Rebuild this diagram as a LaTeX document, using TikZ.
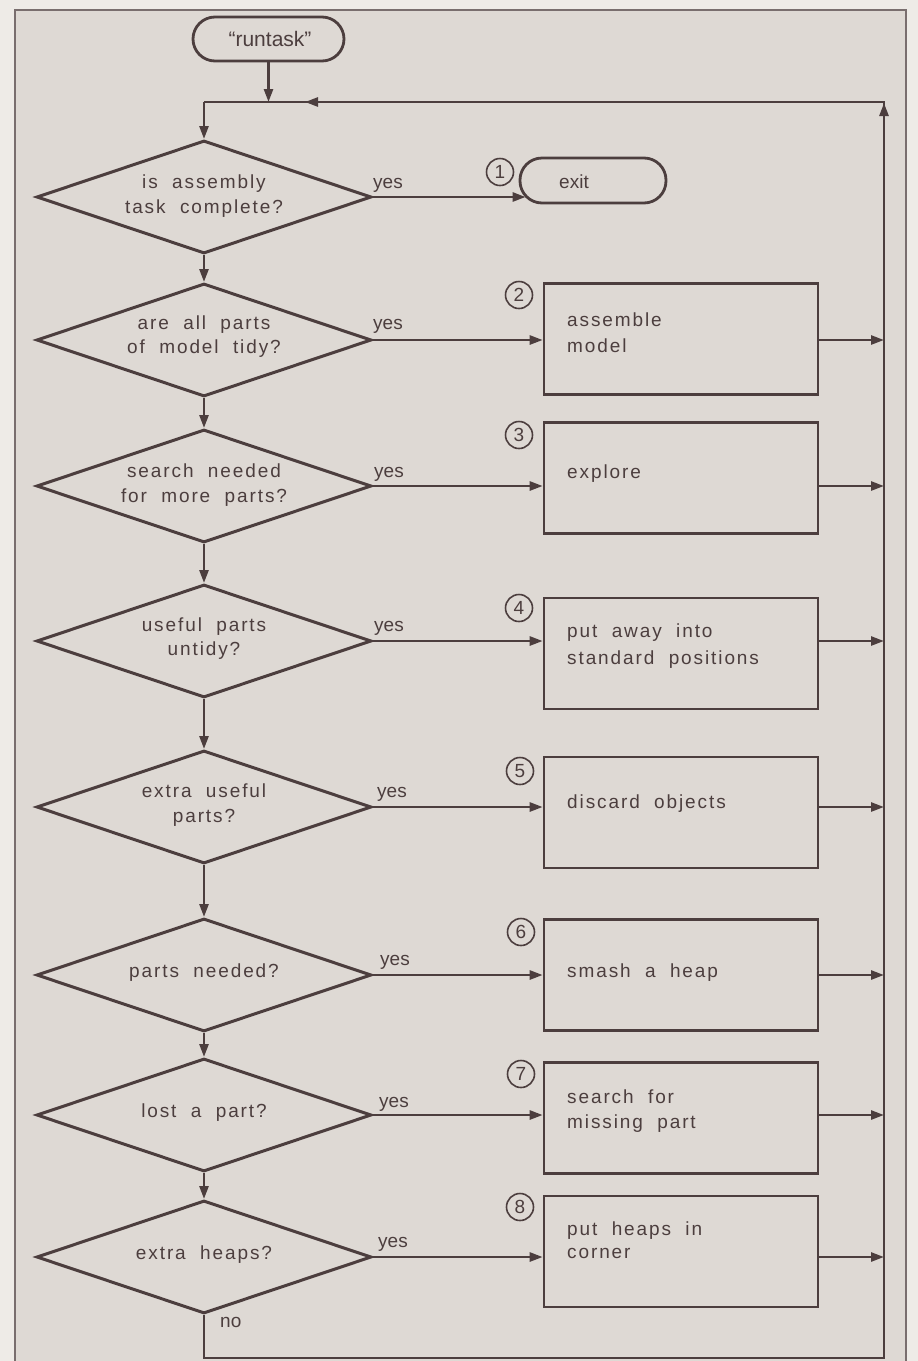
\documentclass[tikz,border=0pt]{standalone}
\usepackage{fontspec}
\setmainfont{Liberation Sans}
\newfontfamily\lab{Liberation Sans}[LetterSpace=10,WordSpace=2]
\usetikzlibrary{shapes.geometric,arrows.meta,decorations.markings}
\definecolor{ink}{RGB}{76,62,62}
\definecolor{paper}{RGB}{222,217,212}
\definecolor{margin}{RGB}{238,235,231}
\begin{document}
\begin{tikzpicture}[x=1pt,y=-1pt,
  line/.style={draw=ink,line width=2.6pt},
  arr/.style={line,-{Triangle[length=13pt,width=9pt]}},
  dec/.style={diamond,draw=ink,line width=3pt,minimum width=335pt,minimum height=113pt,inner sep=0pt,aspect=2.96},
  stepbox/.style={rectangle,draw=ink,line width=2.6pt,minimum width=274pt,minimum height=111pt,inner sep=0pt},
  term/.style={rectangle,rounded corners=22pt,draw=ink,line width=2.8pt,inner sep=0pt,minimum height=44pt},
  num/.style={circle,draw=ink,line width=1.6pt,minimum size=27pt,inner sep=0pt,text=ink,font=\fontsize{19}{19}\selectfont},
  txt/.style={anchor=base,inner sep=0pt,text=ink,font=\fontsize{19}{23}\selectfont\lab},
  btxt/.style={txt,anchor=base west},
  lbl/.style={anchor=base west,inner sep=0pt,text=ink,font=\fontsize{19}{23}\selectfont}]
\useasboundingbox (0,0) rectangle (918,1361);
\fill[margin] (0,0) rectangle (918,1361);
\filldraw[fill=paper,draw=ink!75,line width=1.4pt] (15,10) rectangle (906,1380);

% start
\node[term,minimum width=151pt] (runtask) at (268.5,39) {};
\node[lbl,anchor=base,font=\fontsize{21}{25}\selectfont] (runtaskt) at (270,46) {``runtask''};

% decisions
\node[dec] (d1) at (204,197) {};
\node[dec] (d2) at (204,340) {};
\node[dec] (d3) at (204,486) {};
\node[dec] (d4) at (204,641) {};
\node[dec] (d5) at (204,807) {};
\node[dec] (d6) at (204,975) {};
\node[dec] (d7) at (204,1115) {};
\node[dec] (d8) at (204,1257) {};

\node[txt] (d1a) at (204,188) {is assembly};
\node[txt] (d1b) at (204,213) {task complete?};
\node[txt] (d2a) at (204,329) {are all parts};
\node[txt] (d2b) at (204,353) {of model tidy?};
\node[txt] (d3a) at (204,477) {search needed};
\node[txt] (d3b) at (204,502) {for more parts?};
\node[txt] (d4a) at (204,631) {useful parts};
\node[txt] (d4b) at (204,655) {untidy?};
\node[txt] (d5a) at (204,797) {extra useful};
\node[txt] (d5b) at (204,822) {parts?};
\node[txt] (d6a) at (204,977) {parts needed?};
\node[txt] (d7a) at (204,1117) {lost a part?};
\node[txt] (d8a) at (204,1259) {extra heaps?};

% exit
\node[term,minimum width=146pt,minimum height=45pt] (exit) at (593,180.5) {};
\node[lbl,anchor=base] (exitt) at (574,188) {exit};

% action boxes
\node[stepbox] (b2) at (681,339) {};
\node[stepbox] (b3) at (681,478) {};
\node[stepbox] (b4) at (681,653.5) {};
\node[stepbox] (b5) at (681,812.5) {};
\node[stepbox] (b6) at (681,975) {};
\node[stepbox] (b7) at (681,1118) {};
\node[stepbox] (b8) at (681,1251.5) {};

\node[btxt] (b2a) at (567,326) {assemble};
\node[btxt] (b2b) at (567,352) {model};
\node[btxt] (b3a) at (567,478) {explore};
\node[btxt] (b4a) at (567,637) {put away into};
\node[btxt] (b4b) at (567,664) {standard positions};
\node[btxt] (b5a) at (567,808) {discard objects};
\node[btxt] (b6a) at (567,977) {smash a heap};
\node[btxt] (b7a) at (567,1103) {search for};
\node[btxt] (b7b) at (567,1128) {missing part};
\node[btxt] (b8a) at (567,1235) {put heaps in};
\node[btxt] (b8b) at (567,1258) {corner};

% numbers
\node[num] (c1) at (500,172) {1};
\node[num] (c2) at (519,295) {2};
\node[num] (c3) at (519,435) {3};
\node[num] (c4) at (519,608) {4};
\node[num] (c5) at (520,771) {5};
\node[num] (c6) at (521,932) {6};
\node[num] (c7) at (521,1074) {7};
\node[num] (c8) at (520,1207) {8};

% yes labels
\node[lbl] (y1) at (373,188) {yes};
\node[lbl] (y2) at (373,329) {yes};
\node[lbl] (y3) at (374,477) {yes};
\node[lbl] (y4) at (374,631) {yes};
\node[lbl] (y5) at (377,797) {yes};
\node[lbl] (y6) at (380,965) {yes};
\node[lbl] (y7) at (379,1107) {yes};
\node[lbl] (y8) at (378,1247) {yes};
\node[lbl] (no) at (220,1327) {no};

% loop coordinates
\coordinate (join) at (204,102);
\coordinate (rtop) at (884,102);
\coordinate (rbot) at (884,1358);
\coordinate (lbot) at (204,1358);

% connectors
\draw[arr] (runtask.south) -- (runtask.south |- join);
\draw[line,postaction={decorate},decoration={markings,
   mark=at position 1978pt with {\arrow{Triangle[length=13pt,width=9pt]}},
   mark=at position 2558pt with {\arrow{Triangle[length=13pt,width=9pt]}}}]
  (d8.south) -- (lbot) -- (rbot) -- (rtop) -- (join);
\draw[arr] (join) -- (d1.north);
\draw[arr] (d1.south) -- (d2.north);
\draw[arr] (d2.south) -- (d3.north);
\draw[arr] (d3.south) -- (d4.north);
\draw[arr] (d4.south) -- (d5.north);
\draw[arr] (d5.south) -- (d6.north);
\draw[arr] (d6.south) -- (d7.north);
\draw[arr] (d7.south) -- (d8.north);

\draw[arr] (d1.east) -- ([xshift=7pt]d1.east -| exit.west);
\foreach \i in {2,...,8}{
  \draw[arr] (d\i.east) -- (d\i.east -| b\i.west);
  \draw[arr] (d\i.east -| b\i.east) -- (d\i.east -| rtop);
}
\end{tikzpicture}
\end{document}
